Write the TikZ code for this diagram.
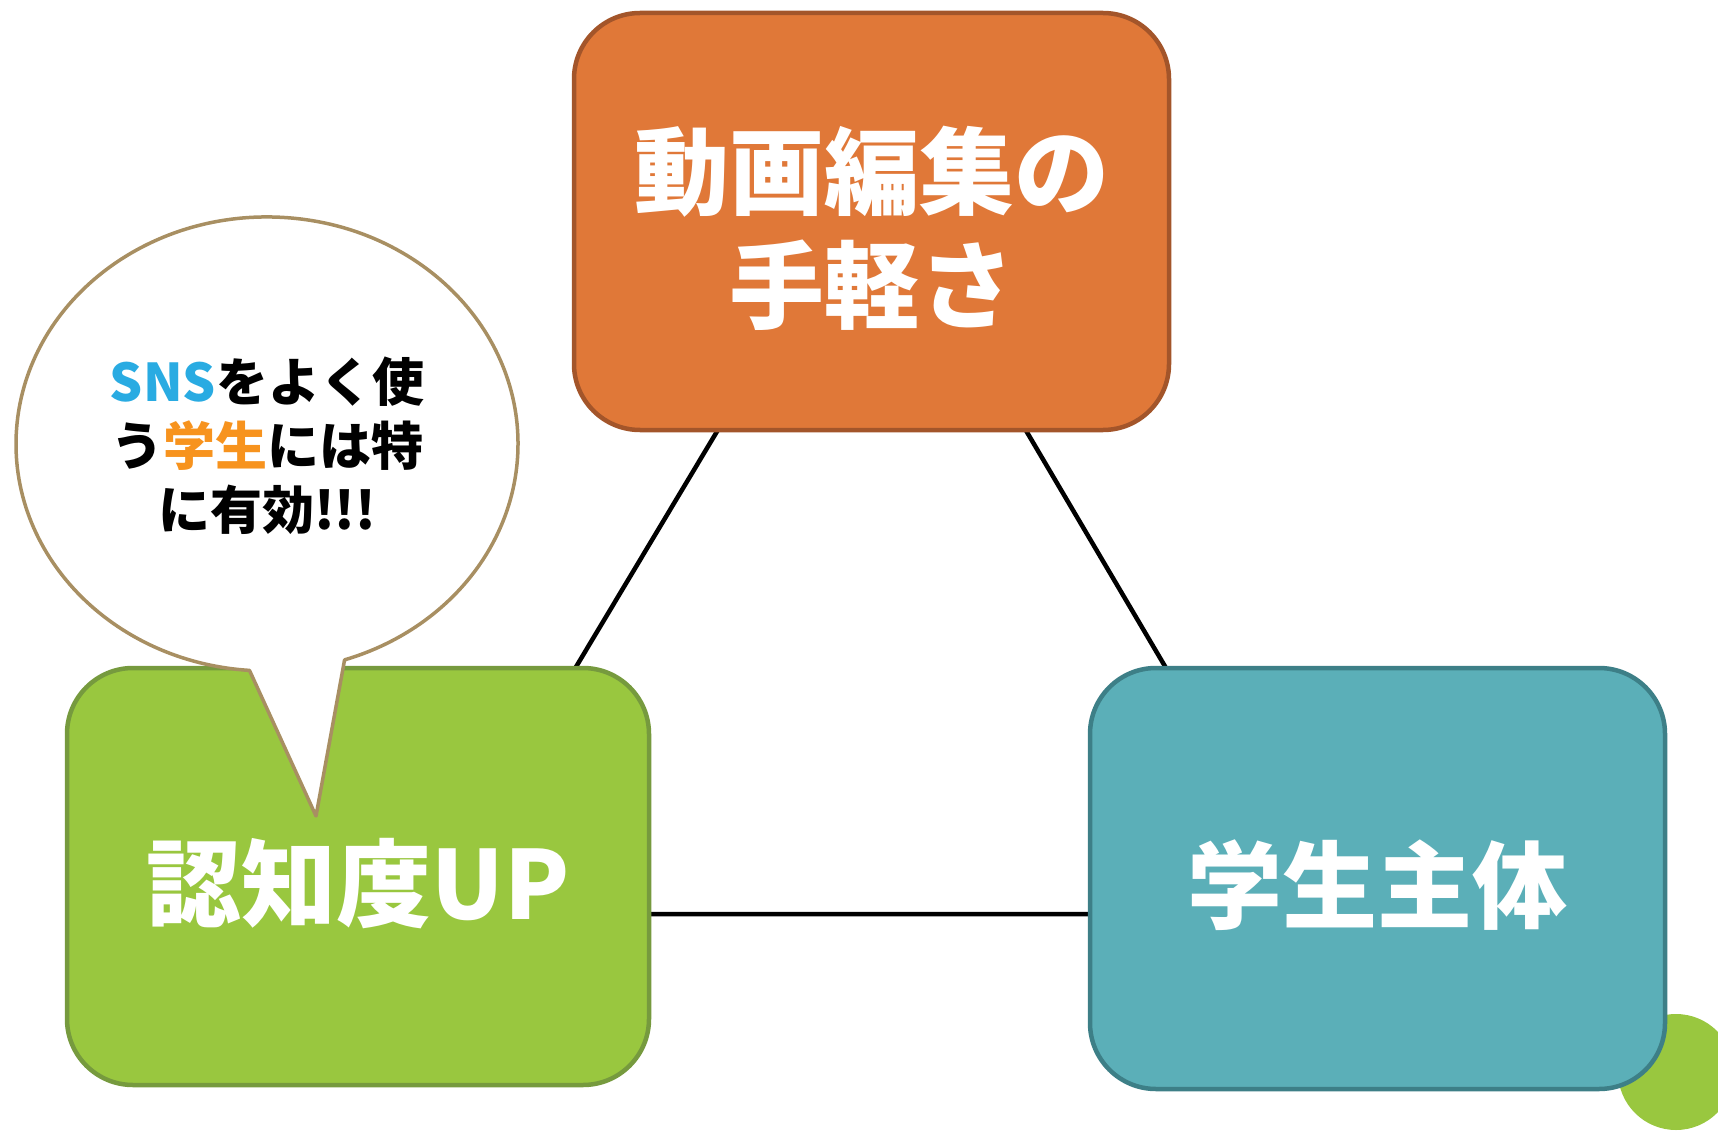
\documentclass[tikz,border=0pt]{standalone}
\usepackage{fontspec}
\newfontfamily\jpfont{Noto Sans CJK JP}[UprightFont={* Black}]
\definecolor{henshuorange}{HTML}{E07838}
\definecolor{henshuedge}{HTML}{A3552A}
\definecolor{ninchigreen}{HTML}{99C73F}
\definecolor{ninchiedge}{HTML}{769A3E}
\definecolor{shutaiteal}{HTML}{5BAFB8}
\definecolor{shutaiedge}{HTML}{3D7F87}
\definecolor{bubbleedge}{HTML}{A88F62}
\definecolor{snsblue}{HTML}{29ABE2}
\definecolor{gakuorange}{HTML}{F7931E}

\begin{document}
\begin{tikzpicture}[x=1pt,y=-1pt,
        panel/.style={draw,line width=4.5pt,rounded corners=66pt,minimum height=417},
        paneltext/.style={text=white,align=center,yshift=-7pt,font=\jpfont\fontsize{95}{114}\selectfont},
        fukidashi/.style={draw=bubbleedge,line width=3.5pt,fill=white,line join=round},
    ]
        \useasboundingbox (0,0) rectangle (1718,1131);
        \clip (0,0) rectangle (1718,1131);
        \fill[ninchigreen] (1676,1072) circle[radius=58];
        % triangle behind the panels
        \coordinate (apex) at (873,171);
        \coordinate (lft) at (428,914);
        \coordinate (rgt) at (1311,914);
        \draw[line width=4.5pt] (apex) -- (lft) -- (rgt) -- cycle;
        \node[panel,fill=henshuorange,draw=henshuedge,minimum width=595] (henshu) at (871.5,221.5) {};
        \node[panel,fill=ninchigreen,draw=ninchiedge,minimum width=582] (ninchi) at (358,876.5) {};
        \node[panel,fill=shutaiteal,draw=shutaiedge,minimum width=575,minimum height=421] (shutai) at (1377.5,878.5) {};
        \node[paneltext] (henshutext) at (henshu.center) {動画編集の\\手軽さ};
        \node[paneltext] (ninchitext) at (ninchi.center) {認知度UP};
        \node[paneltext] (shutaitext) at (shutai.center) {学生主体};
        %
        \draw[fukidashi] (249.5,670.4) arc[start angle=94,end angle=432,x radius=251,y radius=227] -- (316,816) -- cycle;
        \node[align=center,font=\jpfont\fontsize{52}{64}\selectfont] (tokuni) at (267,446)
            {{\color{snsblue}SNS}をよく使\\う{\color{gakuorange}学生}には特\\に有効!!!};
    \end{tikzpicture}
\end{document}
